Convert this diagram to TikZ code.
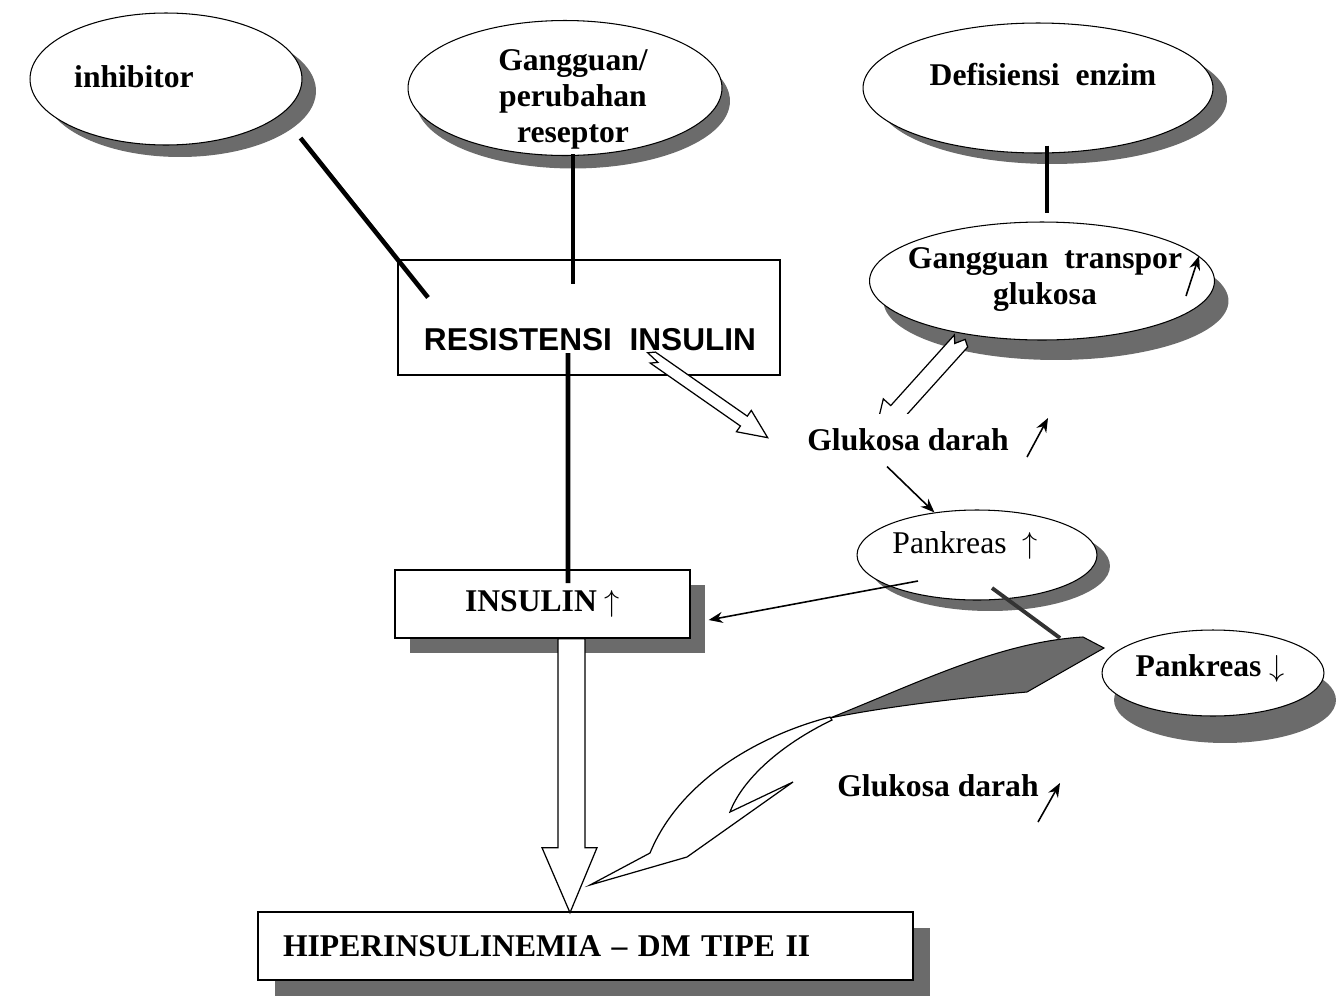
\documentclass[tikz,border=0pt]{standalone}
\usepackage{fontspec}
\setmainfont{Liberation Serif}
\setsansfont{Liberation Sans}
\usetikzlibrary{arrows.meta,shapes.geometric,shadows}
\definecolor{shd}{gray}{0.42}

\begin{document}
\begin{tikzpicture}[x=0.02cm, y=-0.02cm,
  ov/.style={draw, ellipse, fill=white, line width=0.6pt, inner sep=0pt},
  sh/.style 2 args={drop shadow={shadow xshift=#1, shadow yshift=#2,
                    fill=shd, opacity=1}},
  bx/.style={draw, rectangle, fill=white, line width=0.8pt, inner sep=0pt},
  tx/.style={font=\fontsize{18}{20.5}\selectfont\bfseries, align=center, inner sep=0pt},
  txr/.style={tx, font=\fontsize{18}{20.5}\selectfont},
  tl/.style={line width=2.6pt},
  ar/.style={line width=0.9pt, -{Stealth[length=2.8mm,width=2.2mm]}},
  hollow/.style={draw, fill=white, line width=0.7pt}]
\useasboundingbox (0,0) rectangle (1336,998);

% twisted ribbon arrow (back side dark, front side white)
\filldraw[fill=shd, line width=0.6pt] (830,718) .. controls (920,682) and (1000,642) .. (1083,637)
  -- (1104,648) -- (1027,692) .. controls (960,698) and (890,706) .. (830,718) -- cycle;
\draw[hollow] (830,717) .. controls (760,735) and (680,780) .. (650,853) -- (590,885)
  -- (687,857) -- (793,782) -- (730,812) .. controls (742,780) and (780,745) .. (832,720) -- cycle;
\coordinate (rib) at (1060,638);

% causes
\node[ov, sh={0.28cm}{-0.24cm}, minimum width=5.44cm, minimum height=2.64cm,
      label={[tx, shift={(-32,-2)}]center:inhibitor}] (inh) at (166,79) {};
\node[ov, sh={0.16cm}{-0.26cm}, minimum width=6.28cm, minimum height=2.7cm,
      label={[tx, shift={(8,11)}]center:{Gangguan/\\perubahan\\reseptor}}] (gang) at (565,88) {};
\node[ov, sh={0.28cm}{-0.22cm}, minimum width=7cm, minimum height=2.6cm,
      label={[tx, shift={(5,-13)}]center:{Defisiensi\ \ enzim}}] (def) at (1038,88) {};
\node[ov, sh={0.28cm}{-0.4cm}, minimum width=6.9cm, minimum height=2.36cm,
      label={[tx, shift={(3,-1)}]center:{Gangguan\ \ transpor\\glukosa}}] (trans) at (1042,281) {};
\node[ov, sh={0.26cm}{-0.22cm}, minimum width=4.8cm, minimum height=1.8cm,
      label={[txr, shift={(-12,-10)}]center:{Pankreas\ \ $\uparrow$}}] (pank1) at (977,555) {};
\node[ov, sh={0.24cm}{-0.54cm}, minimum width=4.44cm, minimum height=1.72cm,
      label={[tx, shift={(-3,-5)}]center:{Pankreas $\downarrow$}}] (pank2) at (1213,673) {};

% boxes
\node[bx, minimum width=7.64cm, minimum height=2.3cm,
      label={[tx, font=\fontsize{18}{20.5}\selectfont\sffamily\bfseries, shift={(1,22.5)}]center:{RESISTENSI\ \ INSULIN}}] (res) at (589,317.5) {};
\node[bx, tx, sh={0.3cm}{-0.3cm}, minimum width=5.9cm, minimum height=1.36cm] (ins) at (542.5,604) {INSULIN $\uparrow$};
\node[bx, tx, sh={0.34cm}{-0.32cm}, minimum width=13.1cm, minimum height=1.36cm,
      inner xsep=0.5cm, text width=12.1cm, align=left] (hip) at (585.5,946) {HIPERINSULINEMIA -- DM TIPE II};

% thick links
\draw[tl] ([shift={(38,12)}]inh.south east) -- ([shift={(-161,-20)}]res.center);
\draw[tl] ([shift={(8,-2)}]gang.south) -- ([shift={(-16,-33.5)}]res.center);
\draw[tl] ([shift={(-21,35.5)}]res.center) -- ([shift={(25.5,-21)}]ins.center);
\draw[tl] ([shift={(9,-8)}]def.south) -- ([shift={(5,-8)}]trans.north);
\draw[line width=2.2pt, black!80] ([shift={(15,33)}]pank1.center) -- (rib);

% block arrows
\begin{scope}[shift={(652,357)}, rotate=-34.9]
  \draw[hollow] (0,-6) -- (112,-6) -- (112,-13) -- (141,0) -- (112,13) -- (112,6)
    -- (2,6) -- (8,1) -- (-6,-1) -- cycle;
\end{scope}
\begin{scope}[shift={(961,341)}, rotate=228]
  \draw[hollow] (0,-9) -- (95,-9) -- (95,-19) -- (130,0) -- (95,19) -- (95,9)
    -- (0,9) -- (6,3) -- (-4,-2) -- cycle;
\end{scope}
\draw[hollow] ([shift={(15.5,0)}]ins.south) -- ++(0,209) -- ++(-16,0) -- ++(28,65)
  -- ++(27,-65) -- ++(-12,0) -- ++(0,-209) -- cycle;

% blood glucose
\node[tx, fill=white, inner xsep=0.08cm, inner ysep=0.3cm] (glu1) at (908,440) {Glukosa darah};
\node[tx] (glu2) at (938,786) {Glukosa darah};

% thin arrows
\draw[ar] ([shift={(-21,0)}]glu1.south) -- (pank1.135);
\draw[ar] ([shift={(-59,26)}]pank1.center) -- ([shift={(18,16)}]ins.east);
\draw[ar] ([shift={(119,17)}]glu1.center) -- ++(21,-39);
\draw[ar] ([shift={(100,36)}]glu2.center) -- ++(22,-39);
\draw[ar] ([shift={(144,15)}]trans.center) -- ++(13,-40);
\end{tikzpicture}
\end{document}
